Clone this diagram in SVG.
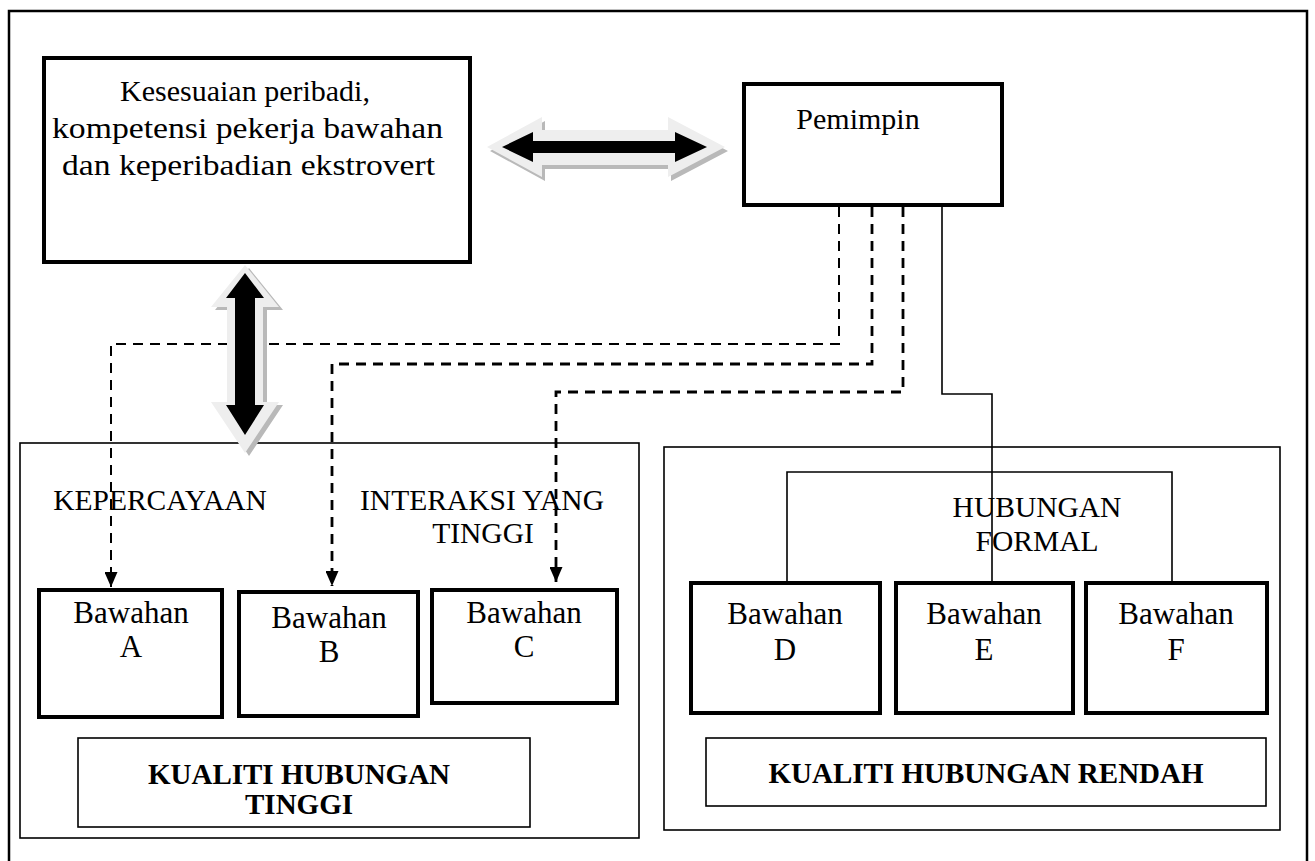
<svg xmlns="http://www.w3.org/2000/svg" width="1315" height="861" viewBox="0 0 1315 861">
<style>
.box{fill:#fff;stroke:#000;stroke-width:4}
.thin{fill:none;stroke:#000;stroke-width:1.6}
.t{font-family:"Liberation Serif","Times New Roman",serif;fill:#000;text-anchor:middle}
.n{font-size:31px}
.l{font-size:29.5px}
.b{font-size:29px;font-weight:bold}
.dash{fill:none;stroke:#000;stroke-width:2.8;stroke-dasharray:10,7}
.solid{fill:none;stroke:#000;stroke-width:1.6}
.hl{fill:#eeeeee}
.sh{fill:#b9b9b9}
.bk{fill:#000}
</style>
<defs>
<marker id="ah" viewBox="0 0 15 13" refX="15" refY="6.5" markerWidth="15" markerHeight="13" markerUnits="userSpaceOnUse" orient="auto">
<path d="M0,0 L15,6.5 L0,13 Z" fill="#000"/>
</marker>
</defs>
<rect x="0" y="0" width="1315" height="861" fill="#fff"/>
<rect x="9" y="11" width="1298" height="880" fill="none" stroke="#000" stroke-width="2.5"/>

<g id="lower-left-area">
<rect class="thin" x="20" y="443" width="619" height="395"/>
</g>
<g id="lower-right-area">
<rect class="thin" x="664" y="447" width="616" height="383"/>
</g>

<g id="kesesuaian">
<rect class="box" x="44" y="58" width="426" height="204"/>
<text class="t" font-size="30" x="245" y="101">Kesesuaian peribadi,</text>
<text class="t" font-size="30" x="247.5" y="138" textLength="391" lengthAdjust="spacingAndGlyphs">kompetensi pekerja bawahan</text>
<text class="t" font-size="30" x="248.5" y="175" textLength="373" lengthAdjust="spacingAndGlyphs">dan keperibadian ekstrovert</text>
</g>

<g id="pemimpin">
<rect class="box" x="744" y="84" width="258" height="121"/>
<text class="t" font-size="30" x="858" y="129">Pemimpin</text>
</g>

<g id="connectors">
<path class="dash" style="stroke-width:2" d="M839,207 V344 H111 V587" marker-end="url(#ah)"/>
<path class="dash" d="M872,207 V364 H332 V586" marker-end="url(#ah)"/>
<path class="dash" d="M903,207 V392 H556 V582" marker-end="url(#ah)"/>
<path class="solid" d="M942,207 V394 H992 V583"/>
<path class="solid" d="M787,588 V472 H1172 V590"/>
</g>

<g id="arrow-horizontal">
<polygon class="sh" transform="translate(3,4)" points="487,147 542,117 542,130 668,130 668,117 725,147 668,177 668,165 542,165 542,177"/>
<polygon class="hl" points="487,147 542,117 542,130 668,130 668,117 725,147 668,177 668,165 542,165 542,177"/>
<polygon class="bk" points="502,147 533,132 533,141 675,141 675,132 707,147 675,162 675,153 533,153 533,162"/>
</g>

<g id="arrow-vertical">
<polygon class="sh" transform="translate(4,3)" points="245,265 279,307 263,307 263,402 279,402 245,453 211,402 227,402 227,307 211,307"/>
<polygon class="hl" points="245,265 279,307 263,307 263,402 279,402 245,453 211,402 227,402 227,307 211,307"/>
<polygon class="bk" points="245,273 264,298 255,298 255,405 264,405 245,435 226,405 235,405 235,298 226,298"/>
</g>

<g id="label-kepercayaan">
<text class="t l" x="160" y="510">KEPERCAYAAN</text>
</g>
<g id="label-interaksi">
<text class="t l" x="482" y="510">INTERAKSI YANG</text>
<text class="t l" x="483" y="543">TINGGI</text>
</g>
<g id="label-formal">
<text class="t l" x="1037" y="517">HUBUNGAN</text>
<text class="t l" x="1037" y="551">FORMAL</text>
</g>

<g id="bawahan-a">
<rect class="box" x="39" y="590" width="183" height="127"/>
<text class="t n" x="131" y="623">Bawahan</text>
<text class="t n" x="131" y="657">A</text>
</g>
<g id="bawahan-b">
<rect class="box" x="239" y="592" width="179" height="124"/>
<text class="t n" x="329" y="628">Bawahan</text>
<text class="t n" x="329" y="662">B</text>
</g>
<g id="bawahan-c">
<rect class="box" x="432" y="590" width="185" height="113"/>
<text class="t n" x="524" y="623">Bawahan</text>
<text class="t n" x="524" y="657">C</text>
</g>
<g id="bawahan-d">
<rect class="box" x="691" y="583" width="189" height="130"/>
<text class="t n" x="785" y="624">Bawahan</text>
<text class="t n" x="785" y="660">D</text>
</g>
<g id="bawahan-e">
<rect class="box" x="896" y="583" width="177" height="130"/>
<text class="t n" x="984" y="624">Bawahan</text>
<text class="t n" x="984" y="660">E</text>
</g>
<g id="bawahan-f">
<rect class="box" x="1086" y="583" width="181" height="130"/>
<text class="t n" x="1176" y="624">Bawahan</text>
<text class="t n" x="1176" y="660">F</text>
</g>

<g id="kualiti-tinggi">
<rect class="thin" x="78" y="738" width="452" height="89"/>
<text class="t b" x="299" y="784">KUALITI HUBUNGAN</text>
<text class="t b" x="299" y="814">TINGGI</text>
</g>
<g id="kualiti-rendah">
<rect class="thin" x="706" y="738" width="560" height="68"/>
<text class="t b" x="986" y="783">KUALITI HUBUNGAN RENDAH</text>
</g>
</svg>
